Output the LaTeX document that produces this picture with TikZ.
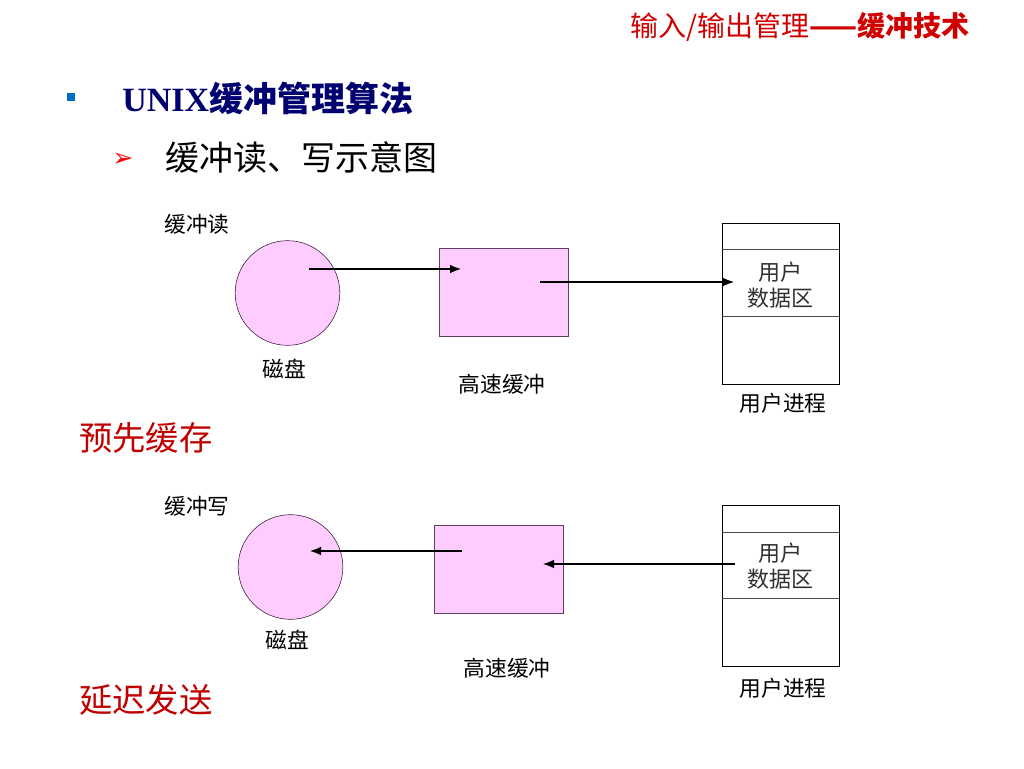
\documentclass[tikz,border=0pt]{standalone}
\usepackage{fontspec}
\usetikzlibrary{arrows.meta}
\setmainfont{Liberation Serif}
\newfontfamily\cjk{Noto Sans CJK SC}
\newfontfamily\dejavu{DejaVu Sans}
\definecolor{diskpink}{HTML}{FFCCFF}
\definecolor{diskline}{HTML}{301030}
\definecolor{bufline}{HTML}{604060}
\definecolor{headred}{HTML}{D00000}
\definecolor{notered}{HTML}{C00000}
\definecolor{titleblue}{HTML}{000070}
\definecolor{bulletblue}{HTML}{0070C0}
\definecolor{datagray}{HTML}{303030}
\begin{document}
\begin{tikzpicture}[x=0.75pt,y=-0.75pt,
    disk/.style={circle,draw=diskline,fill=diskpink,minimum size=78.5pt,inner sep=0pt},
    buf/.style={draw=bufline,fill=diskpink,minimum width=96.75pt,minimum height=66pt,inner sep=0pt},
    proc/.style={draw=black,minimum width=87.75pt,minimum height=121pt,inner sep=0pt},
    lbl/.style={font=\cjk\fontsize{16.3}{18}\selectfont},
    data/.style={font=\cjk\fontsize{16.5}{19.5}\selectfont,align=center,text=datagray},
    note/.style={font=\cjk\fontsize{25}{28}\selectfont,text=notered,anchor=west,inner sep=0pt}]
  \useasboundingbox (0,0) rectangle (1024,768);
  \draw
    (970,27) node[anchor=east,inner sep=0pt,text=headred,font=\cjk\fontsize{21}{24}\selectfont] (head){输入/输出管理\textbf{——缓冲技术}}
    (71,97) node[fill=bulletblue,minimum size=6pt,inner sep=0pt] (sq){}
    (122,98) node[anchor=west,inner sep=0pt,text=titleblue,font=\fontsize{25.5}{28}\selectfont\bfseries] (title){UNIX{\cjk 缓冲管理算法}}
    (123,160) node[text=red,font=\dejavu\fontsize{19}{21}\selectfont] (arr){➢}
    (165,158) node[anchor=west,inner sep=0pt,font=\cjk\fontsize{25.5}{28}\selectfont] (sub){缓冲读、写示意图}
    (79,438) node[note] (pre){预先缓存}
    (79,700) node[note] (late){延迟发送}
    (197,224) node[lbl] (rd){缓冲读}
    (287.5,293) node[disk] (disk1){}
    (503.5,292) node[buf] (buf1){}
    (780.5,303.5) node[proc] (proc1){}
    (780,285) node[data] (data1){用户\\数据区}
    (284,369) node[lbl] (disk1lbl){磁盘}
    (502,384) node[lbl] (buf1lbl){高速缓冲}
    (783,403) node[lbl] (proc1lbl){用户进程}
    (197,506) node[lbl] (wr){缓冲写}
    (290.5,567) node[disk] (disk2){}
    (499,569.5) node[buf] (buf2){}
    (780.5,585.5) node[proc] (proc2){}
    (780,566) node[data] (data2){用户\\数据区}
    (287,640) node[lbl] (disk2lbl){磁盘}
    (507,668) node[lbl] (buf2lbl){高速缓冲}
    (783,688) node[lbl] (proc2lbl){用户进程};
  \begin{scope}[draw=black!70]
    \draw ([yshift=-20.25pt]proc1.north west) -- ([yshift=-20.25pt]proc1.north east);
    \draw ([yshift=-70pt]proc1.north west) -- ([yshift=-70pt]proc1.north east);
    \draw ([yshift=-21pt]proc2.north west) -- ([yshift=-21pt]proc2.north east);
    \draw ([yshift=-70.5pt]proc2.north west) -- ([yshift=-70.5pt]proc2.north east);
  \end{scope}
  \coordinate (d1o) at (309,269);
  \coordinate (b1i) at (462,269);
  \coordinate (b1o) at (540,282);
  \coordinate (p1i) at (735,282);
  \coordinate (b2o) at (462,551);
  \coordinate (d2i) at (309,551);
  \coordinate (p2o) at (735,564);
  \coordinate (b2i) at (542,564);
  \begin{scope}[-{Latex[length=9pt,width=6.5pt]},line width=2.2pt]
    \draw (d1o) to (b1i);
    \draw (b1o) to (p1i);
    \draw (b2o) to (d2i);
    \draw (p2o) to (b2i);
  \end{scope}
\end{tikzpicture}
\end{document}
